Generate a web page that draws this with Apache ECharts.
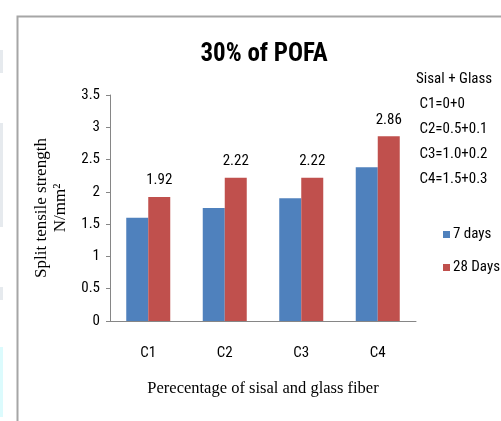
<!DOCTYPE html>
<html>
<head>
<meta charset="utf-8">
<script src="https://cdn.jsdelivr.net/npm/echarts@6/dist/echarts.min.js"></script>
<style>
html,body{margin:0;padding:0;background:#fff;}
#chart{width:501px;height:421px;}
</style>
</head>
<body>
<div id="chart"></div>
<script>
const categories = ['C1', 'C2', 'C3', 'C4'];
const days7 = [1.6, 1.75, 1.9, 2.38];
const days28 = [1.92, 2.22, 2.22, 2.86];
const seriesNames = ['7 days', '28 Days'];
const yTicks = { min: 0, max: 3.5, interval: 0.5 };
const noteLines = ['Sisal + Glass', ' C1=0+0', ' C2=0.5+0.1', ' C3=1.0+0.2', ' C4=1.5+0.3'];

const narrow = "'Roboto Condensed', 'DejaVu Sans Condensed', sans-serif";
const serif = "'Liberation Serif', 'DejaVu Serif', serif";

const chart = echarts.init(document.getElementById('chart'), null, { renderer: 'canvas' });
const option = {
  backgroundColor: '#ffffff',
  animation: false,
  title: {
    text: '30% of POFA',
    left: 259, top: 37, textAlign: 'center',
    textStyle: { fontFamily: narrow, fontWeight: 'bold', fontSize: 25, color: '#000' }
  },
  grid: { left: 110, right: 85, top: 95, bottom: 100 },
  xAxis: {
    type: 'category',
    data: categories,
    name: 'Perecentage of sisal and glass fiber',
    nameLocation: 'middle',
    nameGap: 59,
    nameTextStyle: { fontFamily: serif, fontSize: 16.5, color: '#000' },
    axisLine: { lineStyle: { color: '#868686', width: 1 } },
    axisTick: { show: false },
    axisLabel: { margin: 25, fontFamily: narrow, fontSize: 15, color: '#000' }
  },
  yAxis: {
    type: 'value',
    min: yTicks.min, max: yTicks.max, interval: yTicks.interval,
    name: 'Split tensile strength\nN/mm²',
    nameLocation: 'middle',
    nameRotate: 90,
    nameGap: 38,
    nameTextStyle: { fontFamily: serif, fontSize: 17, color: '#000', lineHeight: 19 },
    axisLine: { show: true, lineStyle: { color: '#868686', width: 1 } },
    axisTick: { show: true, length: 4, lineStyle: { color: '#868686' } },
    splitLine: { show: false },
    axisLabel: { margin: 10, fontFamily: narrow, fontSize: 15, color: '#000' }
  },
  legend: {
    orient: 'vertical',
    left: 438, top: 222,
    itemWidth: 7, itemHeight: 7, itemGap: 18,
    icon: 'rect',
    textStyle: { fontFamily: narrow, fontSize: 15, color: '#000', padding: [0, 0, 0, -2] },
    data: seriesNames
  },
  series: [
    {
      name: seriesNames[0], type: 'bar', data: days7,
      barWidth: 22, barGap: '0%',
      itemStyle: { color: '#4F81BD' }
    },
    {
      name: seriesNames[1], type: 'bar', data: days28,
      barWidth: 22,
      itemStyle: { color: '#C0504D' },
      label: { show: true, position: 'top', distance: 9, fontFamily: narrow, fontSize: 15, color: '#000',
               formatter: p => p.value.toFixed(2) }
    }
  ],
  graphic: [
    { type: 'rect', left: 15, top: 14, silent: true, z: -1,
      shape: { width: 520, height: 440 },
      style: { fill: 'none', stroke: '#a6a6a6', lineWidth: 2 } },
    { type: 'rect', left: 0, top: 50, shape: { width: 3, height: 23 }, style: { fill: '#e6eaee' }, silent: true },
    { type: 'rect', left: 0, top: 123, shape: { width: 3, height: 104 }, style: { fill: '#e6eaee' }, silent: true },
    { type: 'rect', left: 0, top: 287, shape: { width: 3, height: 13 }, style: { fill: '#e6eaee' }, silent: true },
    { type: 'rect', left: 0, top: 347, shape: { width: 3, height: 70 }, style: { fill: '#dcfbfd' }, silent: true },
    {
      type: 'text', left: 416, top: 67, silent: true,
      style: { text: noteLines.join('\n'), fontFamily: narrow, fontSize: 15, lineHeight: 25, fill: '#000' }
    }
  ]
};
chart.setOption(option);
</script>
</body>
</html>
